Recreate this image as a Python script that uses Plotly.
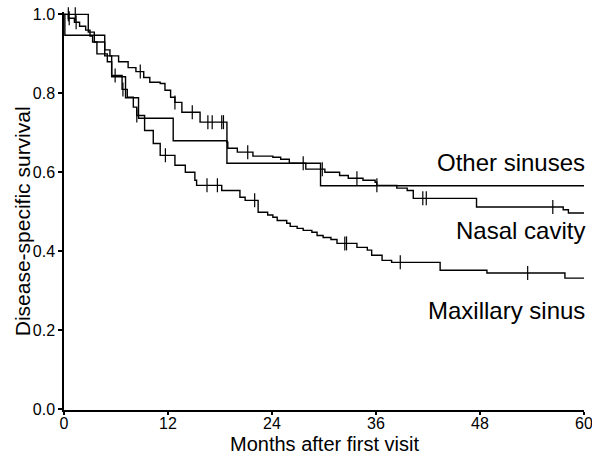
import numpy as np
import plotly.graph_objects as go

# ---- data ----
other_t = [0, 0.1, 4.7, 5.5, 7.1, 8.6, 12.6, 18.8, 29.6, 60]
other_s = [1.0, 0.947, 0.895, 0.842, 0.789, 0.737, 0.680, 0.623, 0.566, 0.566]
other_cens = []

nasal_t = [0, 2.8, 3.5, 4.7, 5.3, 6.3, 7.4, 8.3, 9.2, 9.9, 11.1, 11.65, 12.3, 12.8, 13.6,
           15.7, 18.8, 18.9, 20.0, 21.8, 24.1, 25.0, 26.0, 27.9, 30.1, 31.8, 32.8,
           34.5, 35.9, 36.1, 38.4, 39.6, 40.3, 47.6, 57.6, 58.2, 60]
nasal_s = [1.0, 0.955, 0.93, 0.91, 0.895, 0.88, 0.865, 0.855, 0.84, 0.828, 0.825, 0.808, 0.79, 0.777, 0.752,
           0.727, 0.676, 0.661, 0.651, 0.641, 0.638, 0.633, 0.623, 0.608, 0.600, 0.592, 0.585,
           0.580, 0.575, 0.567, 0.560, 0.554, 0.534, 0.512, 0.505, 0.497, 0.497]
nasal_cens = [0.5, 1.3, 8.8, 12.8, 14.8, 16.6, 17.1, 18.2, 18.4, 21.2, 27.6, 29.8, 33.8, 36.1, 41.4, 41.8, 56.4]

max_t = [0, 0.5, 1.2, 1.8, 2.5, 3.0, 3.3, 3.8, 5.0, 5.5, 6.7, 7.3, 8.0, 8.4, 9.3, 10.3, 11.1,
         12.8, 14.0, 15.1, 15.3, 18.2, 20.3, 20.9, 22.4, 23.5, 24.1, 24.6, 25.7, 26.1, 26.9,
         27.6, 28.6, 29.2, 29.9, 30.8, 31.5, 33.8, 35.0, 35.5, 36.7, 37.8, 43.4, 48.8, 57.8, 60]
max_s = [1.0, 0.99, 0.98, 0.97, 0.96, 0.945, 0.93, 0.90, 0.88, 0.845, 0.81, 0.79, 0.765, 0.744, 0.706, 0.673, 0.643,
         0.618, 0.60, 0.58, 0.567, 0.554, 0.537, 0.529, 0.499, 0.492, 0.486, 0.478, 0.471, 0.463, 0.458,
         0.453, 0.448, 0.44, 0.435, 0.43, 0.42, 0.41, 0.403, 0.39, 0.377, 0.372, 0.352, 0.345, 0.332, 0.332]
max_cens = [0.6, 1.4, 5.9, 6.8, 8.4, 11.7, 16.5, 17.7, 22.0, 32.4, 32.6, 38.8, 53.5]

x_ticks = [0, 12, 24, 36, 48, 60]
y_ticks = [0.0, 0.2, 0.4, 0.6, 0.8, 1.0]

labels = [("Other sinuses", 0.625), ("Nasal cavity", 0.453), ("Maxillary sinus", 0.25)]
x_title = "Months after first visit"
y_title = "Disease-specific survival"

FONT = "Liberation Sans, Arial, sans-serif"


def step_at(ts, ss, t):
    idx = np.searchsorted(np.array(ts), t, side="right") - 1
    return np.array(ss)[idx]


fig = go.Figure()
for ts, ss, cens in [(other_t, other_s, other_cens), (nasal_t, nasal_s, nasal_cens), (max_t, max_s, max_cens)]:
    fig.add_trace(go.Scatter(x=ts, y=ss, mode="lines", line=dict(color="black", width=1.4, shape="hv"),
                             showlegend=False, hoverinfo="skip"))
    if cens:
        fig.add_trace(go.Scatter(x=cens, y=[step_at(ts, ss, c) for c in cens], mode="markers",
                                 marker=dict(symbol="line-ns-open", size=10, color="black",
                                             line=dict(color="black", width=1.2)),
                                 showlegend=False, hoverinfo="skip", cliponaxis=False))

for txt, yv in labels:
    fig.add_annotation(x=60, y=yv, xref="x", yref="y", text=txt, showarrow=False, xanchor="right",
                       yanchor="middle", xshift=3, font=dict(family=FONT, size=24, color="black"))

# axis titles
fig.add_annotation(x=30, y=0, xref="x", yref="y", text=x_title, showarrow=False, xanchor="center",
                   yanchor="middle", yshift=-35, font=dict(family=FONT, size=20, color="black"))
fig.add_annotation(x=0, y=0.476, xref="x", yref="y", text=y_title, showarrow=False, textangle=-90,
                   xanchor="center", yanchor="middle", xshift=-42, font=dict(family=FONT, size=21, color="black"))

fig.update_layout(
    width=592, height=457,
    margin=dict(l=64, r=8, t=12, b=47),
    paper_bgcolor="white", plot_bgcolor="white",
    font=dict(family=FONT, color="black"),
)
fig.update_xaxes(range=[0, 60], tickvals=x_ticks, ticktext=[str(v) for v in x_ticks],
                 showline=True, linecolor="black", linewidth=1.5, ticks="outside", ticklen=3,
                 tickwidth=1.5, tickcolor="black", showgrid=False, zeroline=False, automargin=False,
                 ticklabeloverflow="allow", ticklabelstandoff=-5, tickfont=dict(size=16))
fig.update_yaxes(range=[-0.002, 1.006], tickvals=y_ticks, ticktext=[f"{v:.1f}" for v in y_ticks],
                 showline=True, linecolor="black", linewidth=1.5, ticks="outside", ticklen=4,
                 tickwidth=1.5, tickcolor="black", showgrid=False, zeroline=False, automargin=False,
                 ticklabeloverflow="allow", tickfont=dict(size=16))

fig.write_html("out.html", config={"displayModeBar": False},
               post_script="document.body.style.margin='0';document.body.style.overflow='hidden';")
